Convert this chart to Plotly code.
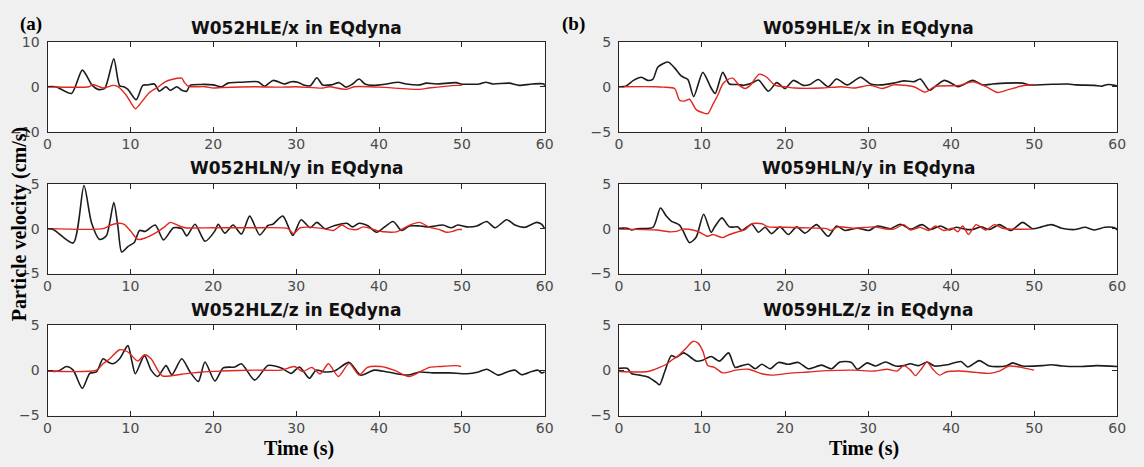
import plotly.graph_objects as go

# ---------------- data (time in s, particle velocity in cm/s) ----------------
titles = ["W052HLE/x in EQdyna", "W059HLE/x in EQdyna",
          "W052HLN/y in EQdyna", "W059HLN/y in EQdyna",
          "W052HLZ/z in EQdyna", "W059HLZ/z in EQdyna"]
x_ticks = [0, 10, 20, 30, 40, 50, 60]
y_ticks_big = [-10, 0, 10]
y_ticks_small = [-5, 0, 5]

# W052 x
t_w052x_obs = [0,1,2.9,4.2,5.4,6.1,6.9,8.0,8.7,9.2,9.7,10.7,11.5,12.1,12.9,13.5,14.3,14.8,15.6,16.2,16.8,17.2,18.5,20.0,21.0,21.8,23.4,25.4,26.2,27.2,28.6,29.4,30.2,30.9,31.7,32.5,33.2,34.2,35.2,36.0,36.8,37.6,38.3,39.3,40.9,42.3,43.3,44.9,45.7,46.9,49.3,49.9,52.1,52.9,53.7,55.7,56.9,58.5,59.9,60]
v_w052x_obs = [0,0,-1.5,3.7,0.3,-0.6,-0.4,6.2,0.2,0.0,-0.6,-2.9,0.3,0.4,0.6,-1.0,0,-0.8,0,-0.8,-1.0,0.3,0.5,0.4,0,0.8,1.0,1.1,0.1,1.4,0.6,1.1,1.0,0.4,0.2,2.0,0.4,0.4,0.9,-0.1,0.6,1.7,0.6,0.3,0.6,1.0,0.6,0.4,0.8,0.6,0.9,0.6,0.6,1.0,0.6,0.8,0.3,0.6,0.6,0.1]
t_w052x_syn = [0,5.0,5.5,6.7,7.9,8.5,9.5,10.6,11.1,12.3,13.4,14.2,15.0,16.2,16.5,17.0,19.0,20.0,21.0,25.0,28.0,30.0,33.2,34.0,36.0,37.0,40.0,44.9,46.0,49.5,50.0]
v_w052x_syn = [0,0,0.5,-0.3,0.3,0,-1.9,-4.9,-4.0,-1.3,0,1.1,1.6,1.9,1.0,0.1,0,-0.3,-0.2,0,-0.1,0,-0.3,0,-0.6,0,-0.1,-0.6,-0.3,0.3,0.3]

# W052 y
t_w052y_obs = [0,0.7,3.1,4.4,5.3,6.3,7.1,8.0,8.5,8.95,9.7,10.5,11.1,11.8,13.0,14.0,15.2,16.2,16.8,17.8,19.0,20.2,20.6,21.4,22.4,23.4,24.4,25.6,26.6,27.2,28.4,29.6,30.6,31.7,32.5,33.5,34.5,36.1,36.8,37.6,38.7,39.7,41.7,42.7,43.7,44.9,46.1,47.7,48.7,49.5,50.6,51.8,53.0,54.0,55.4,56.4,57.6,59.0,59.6,60]
v_w052y_obs = [0,-0.1,-1.6,4.8,0.7,-1.2,-0.8,2.9,0.2,-2.6,-2.0,-1.5,-0.2,-0.3,0.4,-1.25,0.1,0,-0.8,0.5,-1.4,-0.25,0.5,-0.5,0.4,-0.6,1.4,-0.7,0.35,0.5,1.4,-0.75,1.0,0.1,0.7,0,0.3,0.6,0.2,0.6,0.3,-0.4,0.8,-0.2,0.3,0.3,0.2,0.4,0.1,0.4,0.2,0.3,0.8,0.1,1.0,0.4,0.15,0.7,0.5,0]
t_w052y_syn = [0,6.7,7.5,8.7,9.3,10.1,10.9,11.9,13.0,14.2,14.8,15.8,16.6,20,25,29.0,29.7,30.5,32,33.3,34.5,35.5,36.3,37.3,38.1,39.7,40.5,42.1,43.7,44.9,46.1,47.3,48.1,48.9,49.5,50]
v_w052y_syn = [0,0,0.35,0.6,0.45,-0.35,-1.2,-1.0,-0.5,0.25,0.7,0.35,0.1,0.1,0.1,0,-0.55,0.1,0.15,0,-0.2,0.4,0,-0.1,0.2,-0.2,-0.35,-0.35,0.4,0.7,0.15,-0.1,-0.4,-0.3,-0.1,-0.1]

# W052 z
t_w052z_obs = [0,1.3,2.3,3.1,4.2,5.1,5.9,6.7,7.3,7.9,8.7,9.7,10.2,10.6,11.7,12.5,13.3,14.3,15.0,16.2,17.2,18.2,19.0,20.2,21.2,22.6,23.4,25.0,26.6,28.2,29.4,30.4,31.6,32.4,33.4,34.6,36.4,37.8,39.4,41.0,43.4,44.9,46.5,48.5,50.6,52.0,53.0,54.4,55.6,56.4,57.2,58.4,59.2,59.6,60]
v_w052z_obs = [-0.1,-0.1,0.4,0,-2.0,-0.35,-0.2,1.25,0.9,0.7,1.25,2.7,0.9,-0.4,1.6,0,-0.7,0.5,-0.5,1.25,-0.2,-1.25,0.9,-1.2,0.25,0.35,0.7,-1.1,0.5,0.25,-0.35,0.35,-0.9,0,-0.2,-0.1,0.85,-0.55,0,-0.2,-0.55,-0.2,-0.3,-0.3,-0.4,-0.2,0.1,-0.55,-0.15,0,-0.5,-0.15,0,-0.3,-0.2]
t_w052z_syn = [0,5.9,6.7,7.5,8.7,9.7,10.9,11.7,12.5,13.3,13.9,16.2,18.6,21.0,25.0,28.2,29.8,30.8,31.9,32.9,33.9,35.1,36.4,37.6,38.6,40.2,41.8,43.6,44.9,46.1,47.3,49.3,49.9]
v_w052z_syn = [-0.1,0,0.7,1.25,2.25,2.0,1.0,1.7,1.25,0,-0.65,-0.45,-0.2,-0.1,0,0,0.4,-0.15,0.3,-0.4,0.7,-0.7,0.75,-0.55,0.3,0.4,0,-0.7,-0.2,0.3,0.4,0.5,0.4]

# W059 x
t_w059x_obs = [0,0.8,1.75,2.7,3.5,4.1,4.7,5.9,6.7,7.5,8.3,9.0,10.1,11.1,11.6,12.5,13.3,14.3,15.0,16.0,16.8,18.0,19.0,20.0,21.0,22.2,23.0,24.0,25.2,26.2,27.5,29.1,30.3,31.5,33.1,34.3,35.5,36.3,37.4,38.3,39.2,40.2,40.8,41.4,42.6,43.8,45.0,46.6,48.6,49.4,51.5,54.1,55.0,57.3,58.1,58.9,59.7,60]
v_w059x_obs = [0,0.05,0.7,1.05,0.7,0.85,2.2,2.75,2.1,1.2,0.8,-1.1,1.6,-0.15,-0.75,1.6,0.3,0.25,0.15,0.4,0.75,-0.5,0.45,-0.2,0.7,0.15,0.25,0.8,0,0.85,0.2,1.05,0.3,0.2,0.4,0.65,0.55,0.85,-0.4,0.2,0.7,0.3,0,0.2,0.7,0.2,0.3,0.4,0.4,0.2,0.25,0.3,0.2,0.15,0.05,0.25,0.15,0.05]
t_w059x_syn = [0,4.5,5.3,6.7,7.3,7.9,8.5,9.3,10.1,10.7,11.3,11.9,12.5,13.1,13.7,14.5,15.2,15.8,16.9,17.8,18.8,20.0,21.2,24.4,26.8,28.3,30.3,31.7,33.1,35.5,36.9,38.0,41.0,42.6,44.2,45.6,47.0,48.6,49.8]
v_w059x_syn = [0,0,-0.05,-0.2,-1.5,-1.6,-1.4,-2.55,-2.9,-3.0,-2.0,-0.95,0.3,0.8,0.95,0.15,-0.2,0.15,1.4,1.05,0.15,0,-0.15,-0.15,0,-0.15,0.15,-0.2,0.2,0,-0.6,0,0.15,0.55,0,-0.65,-0.3,0.1,0.25]

# W059 y
t_w059y_obs = [0,1.0,1.55,2.2,4.1,5.0,5.7,6.3,7.3,7.7,8.5,9.3,10.2,11.1,11.5,12.4,13.3,14.3,14.8,16.0,16.8,17.6,18.4,19.4,20.4,21.4,22.4,23.8,25.2,26.2,27.2,28.7,30.1,31.1,32.7,33.9,35.1,36.5,37.5,38.7,39.8,40.6,41.6,42.6,43.6,44.6,45.8,47.2,48.6,49.8,50.9,52.1,53.3,54.9,56.1,57.3,58.5,59.7,60]
v_w059y_obs = [0.05,0.05,-0.15,0,0.15,2.3,1.4,0.85,0.4,-0.2,-1.55,-0.95,1.6,-0.4,0.15,1.2,0.2,0.2,-0.2,0.5,-0.4,0.15,-0.55,0.2,-0.65,0.2,-0.5,0.45,-0.85,0.3,-0.2,0.05,-0.2,0.3,0,0.5,-0.05,0.45,-0.1,0.3,-0.15,0.15,-0.05,-0.1,0.2,-0.1,0.45,-0.2,0.7,0,0.2,0.45,0.05,-0.1,0.15,-0.15,0.15,0.1,-0.15]
t_w059y_syn = [0,4.5,6.1,6.9,7.7,8.9,9.7,10.7,11.3,12.5,13.3,14.3,15.2,16.0,17.2,18.0,20.0,22.0,25.0,25.5,26.4,28.3,30.7,31.9,33.1,34.3,35.1,36.3,37.3,38.1,39.1,40.2,40.8,41.4,42.1,43.0,44.2,45.2,46.2,47.4,49.8]
v_w059y_syn = [-0.05,-0.15,-0.35,-0.3,-0.05,-0.15,-0.4,-0.85,-0.65,-1.0,-0.65,-0.35,-0.1,0.55,0.55,0.2,0.15,0.1,0,-0.2,0.2,0.05,0.2,0,-0.05,0.45,-0.15,0.15,-0.2,0.3,-0.2,0.05,-0.35,0.3,-0.65,0.45,-0.15,0.45,0.05,-0.05,-0.05]

# W059 z
t_w059z_obs = [0,1.0,1.55,2.5,3.5,4.5,4.9,5.5,6.3,6.9,7.8,9.3,10.1,11.1,12.1,13.2,14.0,14.8,15.6,16.4,17.2,18.2,19.2,20.4,21.6,22.8,24.4,25.6,26.6,28.0,28.7,29.9,30.9,32.1,33.3,34.3,35.1,36.1,37.1,38.0,39.6,41.2,42.0,43.4,44.6,46.6,47.4,48.6,51.0,52.1,53.4,55.7,57.5,60]
v_w059z_obs = [0.2,0.2,-0.4,-0.55,-0.75,-1.35,-1.6,-0.2,1.6,1.4,1.9,1.0,1.1,1.5,1.0,1.9,0.3,0.5,0.65,0.15,0.65,0.15,0.85,0.65,0.85,0.15,0.55,0.15,0.9,0.85,0.1,0.8,0.45,0.9,0.45,0.5,0.7,0.5,0.9,0.45,0.6,0.95,0.35,1.05,0.45,0.45,0.8,0.45,0.5,0.6,0.45,0.4,0.5,0.4]
t_w059z_syn = [0,3.5,4.9,5.7,6.5,7.1,8.1,8.9,9.5,10.1,10.7,11.5,12.5,14.1,15.6,17.2,18.4,20.4,22.8,25.2,28.3,30.7,32.3,33.5,34.3,35.1,35.7,36.4,37.1,37.8,38.6,39.4,41.0,43.0,44.6,45.8,47.0,48.2,49.0,50.0]
v_w059z_syn = [-0.15,-0.15,0.3,0.65,1.2,1.55,2.45,3.15,3.0,2.1,0.5,0.3,-0.3,0,0.1,-0.4,-0.55,-0.35,-0.2,-0.05,0,-0.1,0.1,-0.1,0.5,0,-0.6,0.1,0.9,0.1,-0.55,-0.2,-0.1,-0.25,-0.35,-0.1,0.45,0.35,0.2,0]

# panel order: row-major (left, right)
panels = [
    (t_w052x_obs, v_w052x_obs, t_w052x_syn, v_w052x_syn, y_ticks_big),
    (t_w059x_obs, v_w059x_obs, t_w059x_syn, v_w059x_syn, y_ticks_small),
    (t_w052y_obs, v_w052y_obs, t_w052y_syn, v_w052y_syn, y_ticks_small),
    (t_w059y_obs, v_w059y_obs, t_w059y_syn, v_w059y_syn, y_ticks_small),
    (t_w052z_obs, v_w052z_obs, t_w052z_syn, v_w052z_syn, y_ticks_small),
    (t_w059z_obs, v_w059z_obs, t_w059z_syn, v_w059z_syn, y_ticks_small),
]

# ---------------- layout geometry ----------------
W, H = 1144, 467
x_doms = [[44 / W, 547 / W], [622 / W, 1126 / W]]
row_px = [(35, 128), (182, 275), (328, 422)]
y_doms = [[1 - b / H, 1 - t / H] for (t, b) in row_px]
title_y_px = [21, 166, 313]

fig = go.Figure()
layout = dict(
    width=W, height=H,
    margin=dict(l=0, r=0, t=0, b=0),
    paper_bgcolor="#f0f0f0", plot_bgcolor="white",
    showlegend=False,
    annotations=[],
)

tick_font = dict(family="DejaVu Sans", size=14, color="#4a4a4a")
for i, (to, vo, ts, vs, yt) in enumerate(panels):
    r, c = divmod(i, 2)
    k = i + 1
    xa = "x" if k == 1 else f"x{k}"
    ya = "y" if k == 1 else f"y{k}"
    fig.add_trace(go.Scatter(x=to, y=vo, mode="lines", xaxis=xa, yaxis=ya,
                             line=dict(color="#1c1c1c", width=1.6, shape="spline", smoothing=0.7)))
    fig.add_trace(go.Scatter(x=ts, y=vs, mode="lines", xaxis=xa, yaxis=ya,
                             line=dict(color="#e3261f", width=1.4, shape="spline", smoothing=0.7)))
    xkey = "xaxis" if k == 1 else f"xaxis{k}"
    ykey = "yaxis" if k == 1 else f"yaxis{k}"
    layout[xkey] = dict(domain=x_doms[c], anchor=ya, range=[0, 60], tickvals=x_ticks,
                        ticks="inside", ticklen=5, tickcolor="#262626", showline=True,
                        linecolor="#262626", linewidth=1, mirror="ticks", showgrid=False,
                        zeroline=False, tickfont=tick_font, fixedrange=True)
    layout[ykey] = dict(domain=y_doms[r], anchor=xa, range=[yt[0], yt[-1]], tickvals=yt,
                        ticks="inside", ticklen=5, tickcolor="#262626", showline=True,
                        linecolor="#262626", linewidth=1, mirror="ticks", showgrid=False,
                        zeroline=False, tickfont=tick_font, fixedrange=True,
                        ticklabelstandoff=4)
    layout["annotations"].append(dict(
        text=titles[i], x=sum(x_doms[c]) / 2, y=1 - title_y_px[r] / H,
        xref="paper", yref="paper", xanchor="center", yanchor="middle", showarrow=False,
        font=dict(family="DejaVu Sans", size=17, color="#111111", weight="bold")))

serif = dict(family="Liberation Serif", size=20, color="black", weight="bold")
serif_small = dict(family="Liberation Serif", size=19, color="black", weight="bold")
layout["annotations"] += [
    dict(text="(a)", x=27 / W, y=1 - 17 / H, xref="paper", yref="paper",
         xanchor="center", yanchor="middle", showarrow=False, font=serif_small),
    dict(text="(b)", x=576 / W, y=1 - 17 / H, xref="paper", yref="paper",
         xanchor="center", yanchor="middle", showarrow=False, font=serif_small),
    dict(text="Particle velocity (cm/s)", x=15 / W, y=1 - 224 / H, xref="paper", yref="paper",
         xanchor="center", yanchor="middle", showarrow=False, textangle=-90, font=serif),
    dict(text="Time (s)", x=298 / W, y=1 - 456 / H, xref="paper", yref="paper",
         xanchor="center", yanchor="middle", showarrow=False, font=serif),
    dict(text="Time (s)", x=870 / W, y=1 - 456 / H, xref="paper", yref="paper",
         xanchor="center", yanchor="middle", showarrow=False, font=serif),
]

fig.update_layout(**layout)
fig.write_html("out.html", config={"displayModeBar": False})
